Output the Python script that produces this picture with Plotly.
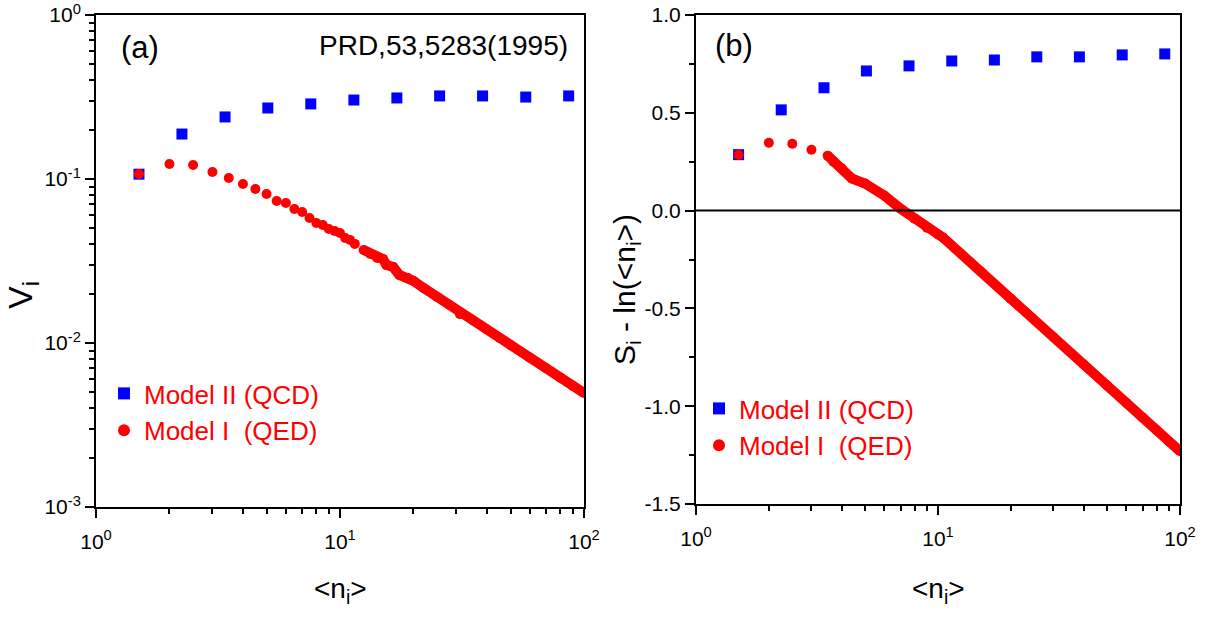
import plotly.graph_objects as go

# ---------------- data ----------------
qcd_x = [1.5, 2.25, 3.38, 5.06, 7.59, 11.4, 17.1, 25.6, 38.4, 57.7, 86.5]
qcd_v = [0.107, 0.188, 0.239, 0.271, 0.287, 0.303, 0.312, 0.321, 0.321, 0.316, 0.321]
qcd_s = [0.286, 0.515, 0.628, 0.714, 0.740, 0.765, 0.770, 0.786, 0.786, 0.796, 0.801]

qed_v_x = [1.5, 2, 2.5, 3, 3.5, 4, 4.5, 5, 5.5, 6, 6.5, 7, 7.5, 8, 8.5, 9, 9.5, 10,
           10.5, 11, 11.5, 12.5, 13.3, 14.2, 15, 15.5, 16.5, 17.5, 19, 20,
           22, 25, 28, 31, 35, 40, 45, 50, 60, 70, 80, 90, 100]
qed_v = [0.1073, 0.1235, 0.1217, 0.1104, 0.1014, 0.0932, 0.0869, 0.0810, 0.0734, 0.0714,
         0.0656, 0.0629, 0.0578, 0.0539, 0.0524, 0.0496, 0.0482, 0.0469,
         0.0437, 0.0425, 0.0402, 0.0369, 0.0349, 0.0330, 0.0325, 0.0299, 0.0291, 0.0260,
         0.0249, 0.0239,
         0.02165, 0.0191, 0.0171, 0.0150, 0.01377, 0.01208, 0.01076, 0.00972,
         0.00813, 0.00701, 0.00615, 0.00548, 0.00495]

qed_s_x = [1.5, 2, 2.5, 3, 3.5, 3.7, 4, 4.4, 5, 6, 7, 8, 9, 10, 10.5,
           15, 20, 30, 40, 50, 60, 70, 80, 90, 100]
qed_s = [0.285, 0.347, 0.342, 0.311, 0.281, 0.250, 0.217, 0.165, 0.138, 0.077, 0.010,
         -0.041, -0.087, -0.122, -0.138,
         -0.311, -0.451, -0.647, -0.787, -0.895, -0.983, -1.058, -1.122, -1.180, -1.230]

x_tickvals = [1, 10, 100]
x_ticktext = ["10<sup>0</sup>", "10<sup>1</sup>", "10<sup>2</sup>"]
v_tickvals = [0.001, 0.01, 0.1, 1]
v_ticktext = ["10<sup>-3</sup>", "10<sup>-2</sup>", "10<sup>-1</sup>", "10<sup>0</sup>"]
s_tickvals = [-1.5, -1.0, -0.5, 0.0, 0.5, 1.0]
s_ticktext = ["-1.5", "-1.0", "-0.5", "0.0", "0.5", "1.0"]

name_qcd = "Model II (QCD)"
name_qed = "Model I  (QED)"

BLUE = "#0000ff"
RED = "#ff0000"
FONT = "Liberation Sans, Arial, sans-serif"

fig = go.Figure()

# ---- panel (a) ----
fig.add_trace(go.Scatter(x=qcd_x, y=qcd_v, mode="markers", name=name_qcd,
                         marker=dict(symbol="square", size=11, color=BLUE),
                         xaxis="x", yaxis="y", legend="legend"))
line_start_a = qed_v_x.index(12.5)
fig.add_trace(go.Scatter(x=qed_v_x[line_start_a:], y=qed_v[line_start_a:], mode="lines",
                         line=dict(color=RED, width=10), showlegend=False,
                         xaxis="x", yaxis="y", hoverinfo="skip"))
fig.add_trace(go.Scatter(x=qed_v_x, y=qed_v, mode="markers", name=name_qed,
                         marker=dict(symbol="circle", size=10, color=RED),
                         xaxis="x", yaxis="y", legend="legend"))

# ---- panel (b) ----
fig.add_trace(go.Scatter(x=qcd_x, y=qcd_s, mode="markers", name=name_qcd,
                         marker=dict(symbol="square", size=11, color=BLUE),
                         xaxis="x2", yaxis="y2", legend="legend2"))
line_start_b = qed_s_x.index(3.5)
fig.add_trace(go.Scatter(x=qed_s_x[line_start_b:], y=qed_s[line_start_b:], mode="lines",
                         line=dict(color=RED, width=10), showlegend=False,
                         xaxis="x2", yaxis="y2", hoverinfo="skip"))
fig.add_trace(go.Scatter(x=qed_s_x, y=qed_s, mode="markers", name=name_qed,
                         marker=dict(symbol="circle", size=10, color=RED),
                         xaxis="x2", yaxis="y2", legend="legend2"))

axis_common = dict(showline=True, linecolor="black", linewidth=2, mirror=True,
                   ticks="outside", ticklen=9, tickwidth=2, tickcolor="black",
                   showgrid=False, zeroline=False, automargin=False,
                   tickfont=dict(family=FONT, size=21, color="black"))

log_minor = dict(ticks="outside", ticklen=5, tickwidth=1.5, tickcolor="black",
                 tickmode="array",
                 tickvals=[m * 10 ** e for e in range(-3, 2) for m in range(2, 10)],
                 showgrid=False)

fig.update_layout(
    width=1205, height=617,
    margin=dict(l=96, r=25, t=15, b=110, autoexpand=False),
    paper_bgcolor="white", plot_bgcolor="white",
    font=dict(family=FONT, color="black"),
    xaxis=dict(type="log", domain=[0, 0.4502], range=[0, 2], anchor="y",
               tickmode="array", tickvals=x_tickvals, ticktext=x_ticktext,
               ticklabelstandoff=6, minor=log_minor, **axis_common),
    yaxis=dict(type="log", domain=[0, 1], range=[-3, 0], anchor="x",
               tickmode="array", tickvals=v_tickvals, ticktext=v_ticktext,
               minor=log_minor, **axis_common),
    xaxis2=dict(type="log", domain=[0.5535, 1], range=[0, 2], anchor="y2",
                tickmode="array", tickvals=x_tickvals, ticktext=x_ticktext,
                ticklabelstandoff=6, minor=log_minor, **axis_common),
    yaxis2=dict(domain=[0.006, 1], range=[-1.5, 1.0], anchor="x2",
                tickmode="array", tickvals=s_tickvals, ticktext=s_ticktext,
                minor=dict(ticks="outside", ticklen=5, tickwidth=1.5, tickcolor="black",
                           dtick=0.25, showgrid=False),
                **axis_common),
    legend=dict(x=(104 - 96) / 1084, y=(617 - 110 - 370) / 492, xanchor="left", yanchor="top",
                bgcolor="rgba(255,255,255,0.9)", borderwidth=0,
                font=dict(family=FONT, size=26, color=RED), tracegroupgap=0,
                itemsizing="constant"),
    legend2=dict(x=(699 - 96) / 1084, y=(617 - 110 - 385) / 492, xanchor="left", yanchor="top",
                 bgcolor="rgba(255,255,255,0.9)", borderwidth=0,
                 font=dict(family=FONT, size=26, color=RED), tracegroupgap=0,
                 itemsizing="constant"),
)

# zero line across panel (b)
fig.add_shape(type="line", xref="x2 domain", yref="y2", x0=0, x1=1, y0=0, y1=0,
              line=dict(color="black", width=2))

ann = []
ann.append(dict(text="(a)", xref="paper", yref="paper", x=(119 - 96) / 1084, y=(617 - 110 - 48) / 492,
                xanchor="left", yanchor="middle", showarrow=False, font=dict(size=31)))
ann.append(dict(text="PRD,53,5283(1995)", xref="paper", yref="paper", x=(570 - 96) / 1084,
                y=(617 - 110 - 46) / 492, xanchor="right", yanchor="middle", showarrow=False,
                font=dict(size=28)))
ann.append(dict(text="(b)", xref="paper", yref="paper", x=(713 - 96) / 1084, y=(617 - 110 - 46) / 492,
                xanchor="left", yanchor="middle", showarrow=False, font=dict(size=31)))
# axis titles
ann.append(dict(text="V<sub>i</sub>", xref="paper", yref="paper", x=(22 - 96) / 1084,
                y=(617 - 110 - 295) / 492, xanchor="center", yanchor="middle", textangle=-90,
                showarrow=False, font=dict(size=34)))
ann.append(dict(text="S<sub>i</sub> - ln(&lt;n<sub>i</sub>&gt;)", xref="paper", yref="paper",
                x=(626 - 96) / 1084, y=(617 - 110 - 290) / 492, xanchor="center", yanchor="middle",
                textangle=-90, showarrow=False, font=dict(size=30)))
ann.append(dict(text="&lt;n<sub>i</sub>&gt;", xref="paper", yref="paper", x=(340 - 96) / 1084,
                y=(617 - 110 - 590) / 492, xanchor="center", yanchor="middle",
                showarrow=False, font=dict(size=28)))
ann.append(dict(text="&lt;n<sub>i</sub>&gt;", xref="paper", yref="paper", x=(938 - 96) / 1084,
                y=(617 - 110 - 590) / 492, xanchor="center", yanchor="middle",
                showarrow=False, font=dict(size=28)))
fig.update_layout(annotations=ann)

fig.write_html("out.html")
